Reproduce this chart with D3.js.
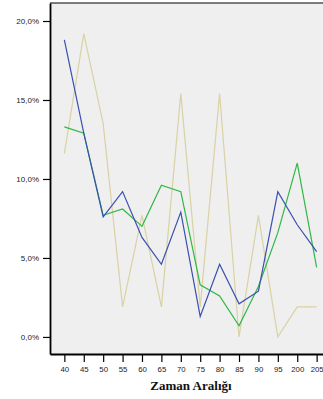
<!DOCTYPE html>
<html>
<head>
<meta charset="utf-8">
<script src="https://cdn.jsdelivr.net/npm/d3@7"></script>
<style>
  html, body { margin: 0; padding: 0; background: #fff; }
  svg { display: block; }
</style>
</head>
<body>
<svg id="chart" width="323" height="399"></svg>
<script>
// Time-interval categories on the x axis
const categories = ["40", "45", "50", "55", "60", "65", "70", "75", "80", "85", "90", "95", "200", "205"];
const yTicks = [0, 5, 10, 15, 20];

// Percent share per interval for each group
const blueSeries = [18.8, 12.9, 7.6, 9.2, 6.3, 4.6, 7.9, 1.3, 4.6, 2.1, 2.9, 9.2, 7.1, 5.4];
const greenSeries = [13.3, 12.9, 7.7, 8.1, 7.0, 9.6, 9.2, 3.3, 2.6, 0.7, 3.2, 6.6, 11.0, 4.4];
const tanSeries = [11.6, 19.2, 13.5, 1.9, 7.7, 1.9, 15.4, 1.9, 15.4, 0.0, 7.7, 0.0, 1.9, 1.9];

const series = [
  { values: tanSeries, color: "#d9d2a4" },
  { values: greenSeries, color: "#2fb844" },
  { values: blueSeries, color: "#3a4fb0" }
];

const svg = d3.select("#chart");
const plot = { left: 50, top: 3, right: 331, bottom: 354 };

const x = d3.scalePoint()
  .domain(categories)
  .range([plot.left, plot.right])
  .padding(0.74);

const y = d3.scaleLinear()
  .domain([-1.08, 21.14])
  .range([plot.bottom, plot.top]);

// Plot background
svg.append("rect")
  .attr("x", plot.left)
  .attr("y", plot.top)
  .attr("width", plot.right - plot.left)
  .attr("height", plot.bottom - plot.top)
  .attr("fill", "#efefef");

// Lines
const line = d3.line()
  .x((d, i) => x(categories[i]))
  .y(d => y(d));

series.forEach(s => {
  svg.append("path")
    .datum(s.values)
    .attr("d", line)
    .attr("fill", "none")
    .attr("stroke", s.color)
    .attr("stroke-width", 1.2)
    .attr("stroke-linejoin", "miter");
});

// Top frame line
svg.append("line")
  .attr("x1", plot.left).attr("x2", plot.right)
  .attr("y1", plot.top).attr("y2", plot.top)
  .attr("stroke", "#000").attr("stroke-width", 1.2);

// Y axis
const yAxis = d3.axisLeft(y)
  .tickValues(yTicks)
  .tickSize(7)
  .tickSizeOuter(0)
  .tickFormat(d => d3.format(".1f")(d).replace(".", ",") + "%");

const gy = svg.append("g")
  .attr("transform", `translate(${plot.left},0)`)
  .call(yAxis);
gy.select(".domain").attr("stroke", "#000").attr("stroke-width", 1.8);
gy.selectAll(".tick line").attr("stroke", "#000").attr("stroke-width", 1.2);
gy.selectAll(".tick text")
  .attr("x", -11)
  .attr("font-family", "Liberation Sans, Arial, sans-serif")
  .attr("font-size", 8)
  .attr("fill", "#222");

// X axis
const xAxis = d3.axisBottom(x)
  .tickSize(8)
  .tickSizeOuter(0);

const gx = svg.append("g")
  .attr("transform", `translate(0,${plot.bottom})`)
  .call(xAxis);
gx.select(".domain").attr("stroke", "#000").attr("stroke-width", 1.8);
gx.selectAll(".tick line").attr("stroke", "#000").attr("stroke-width", 1.2);
gx.selectAll(".tick text")
  .attr("y", 12)
  .attr("font-family", "Liberation Sans, Arial, sans-serif")
  .attr("font-size", 7.8)
  .attr("fill", "#222");

// Axis title
svg.append("text")
  .attr("x", 191)
  .attr("y", 390)
  .attr("text-anchor", "middle")
  .attr("font-family", "Liberation Serif, Times New Roman, serif")
  .attr("font-weight", "bold")
  .attr("font-size", 13)
  .attr("fill", "#111")
  .text("Zaman Aralığı");
</script>
</body>
</html>
